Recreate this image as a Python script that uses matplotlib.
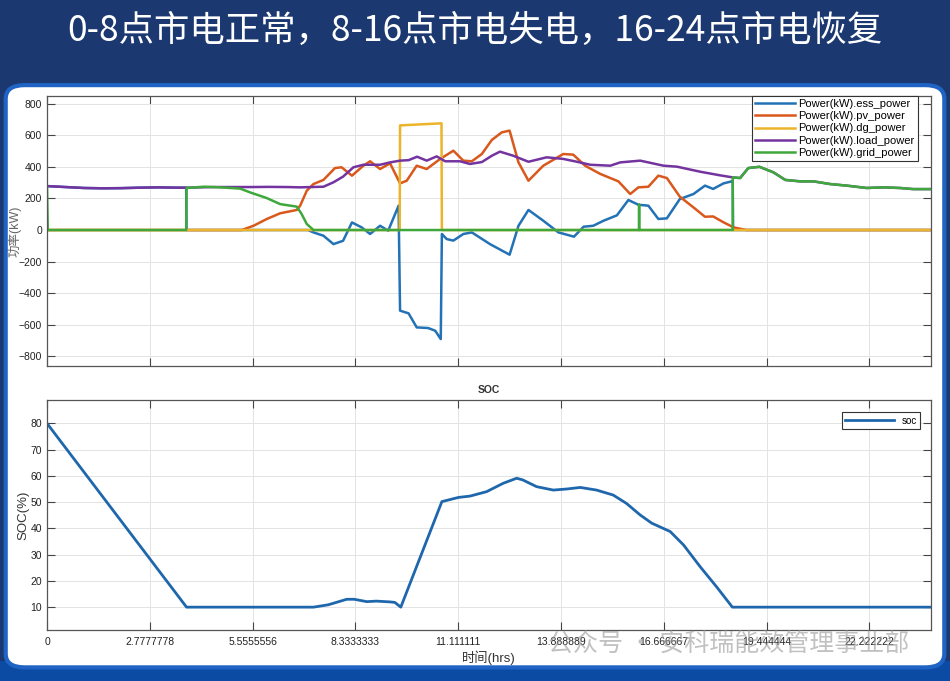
import matplotlib
matplotlib.use('Agg')
import matplotlib.pyplot as plt
from matplotlib.patches import FancyBboxPatch, Rectangle

plt.rcParams['font.family'] = ['Liberation Sans', 'Noto Sans CJK SC', 'DejaVu Sans']

# time in hours, values in kW
load_t = [0, 0.5, 1, 1.5, 2, 2.5, 3, 3.5, 3.76, 4.5, 5.0, 5.5, 6.0, 6.5, 6.84, 7.47, 7.74,
          8.0, 8.28, 8.55, 9.0, 9.27, 9.54, 9.77, 10.0, 10.26, 10.53, 10.76, 11.16, 11.43,
          11.75, 12.02, 12.24, 12.6, 13.01, 13.5, 13.95, 14.32, 14.68, 15.22, 15.49, 16.03,
          16.66, 17.02, 17.65, 18.19, 18.53]
load_v = [278, 272, 266, 264, 265, 268, 270, 268, 268, 272, 272, 272, 273, 272, 270, 274, 302,
          338, 397, 413, 413, 428, 439, 442, 464, 439, 466, 435, 435, 418,
          430, 470, 496, 470, 432, 460, 450, 432, 413, 407, 428, 439,
          407, 401, 369, 346, 333]

grid_t = [0, 0.02, 3.76, 3.77, 4.23, 4.7, 5.22, 5.49, 5.94, 6.3, 6.75, 6.88, 7.02, 7.2,
          16.0, 16.0, 16.0, 18.53, 18.53]
grid_v = [270, 0, 0, 266, 274, 270, 262, 238, 202, 164, 148, 101, 38, 0,
          0, 160, 0, 0, 333]
# after 18.5 h the grid carries the whole load
tail_t = [18.73, 18.95, 19.25, 19.63, 19.95, 20.35, 20.71, 21.16, 21.61, 22.15, 22.6, 23.05, 23.41, 23.85]
tail_v = [329, 392, 400, 365, 317, 308, 308, 291, 281, 266, 270, 266, 259, 259]

ess_t = [3.77, 7.05, 7.2, 7.47, 7.74, 8.0, 8.24, 8.5, 8.73, 9.0, 9.22, 9.5, 9.54, 9.77, 9.99,
         10.3, 10.49, 10.64, 10.67, 10.8, 10.98, 11.25, 11.48, 11.97, 12.5, 12.74, 13.01, 13.41,
         13.82, 14.24, 14.5, 14.76, 15.04, 15.4, 15.71, 15.98, 16.25, 16.52, 16.75, 17.1, 17.47,
         17.78, 18.0, 18.28, 18.5, 18.53, 18.54, 23.85]
ess_v = [0, 0, -15, -36, -89, -68, 48, 17, -25, 27, -4, 154, -510, -527, -616,
         -620, -637, -690, -25, -57, -67, -25, -15, -89, -156, 27, 127, 59,
         -15, -42, 21, 27, 59, 93, 190, 160, 154, 70, 74, 196, 228,
         281, 260, 295, 308, 312, 0, 0]

pv_t = [0, 5.26, 5.58, 5.94, 6.3, 6.75, 6.84, 7.02, 7.2, 7.47, 7.78, 7.96, 8.24, 8.55, 8.73,
        9.0, 9.27, 9.54, 9.72, 9.99, 10.26, 10.62, 10.98, 11.25, 11.48, 11.75, 12.02, 12.29,
        12.5, 12.74, 13.01, 13.41, 13.95, 14.22, 14.54, 14.95, 15.44, 15.76, 15.98, 16.25,
        16.52, 16.75, 17.1, 17.47, 17.78, 18.0, 18.28, 18.55, 18.9, 23.85]
pv_v = [0, 0, 27, 70, 106, 127, 154, 249, 291, 317, 392, 397, 344, 407, 435,
        386, 422, 295, 312, 407, 386, 449, 502, 439, 435, 481, 570, 618,
        629, 428, 312, 407, 481, 477, 407, 355, 308, 228, 270, 274,
        344, 329, 211, 143, 84, 86, 49, 17, 0, 0]

dg_t = [0, 9.53, 9.54, 10.66, 10.67, 23.85]
dg_v = [0, 0, 662, 675, 0, 0]

soc_t = [0, 3.77, 7.2, 7.6, 8.1, 8.3, 8.64, 8.9, 9.27, 9.4, 9.56, 10.67, 11.12, 11.43, 11.88,
         12.33, 12.69, 12.85, 13.23, 13.68, 14.04, 14.41, 14.85, 15.3, 15.66, 16.03, 16.34,
         16.84, 17.2, 17.65, 18.09, 18.52, 23.85]
soc_v = [80, 10, 10, 10.9, 13.0, 13.0, 12.1, 12.3, 12.0, 11.8, 10.0, 50.2, 51.8, 52.3, 54.0,
         57.2, 59.1, 58.5, 55.9, 54.6, 55.0, 55.6, 54.6, 52.7, 49.5, 45.1, 42.0,
         38.8, 33.7, 25.4, 17.8, 10, 10]

xticks = [i * 10000 / 3600 for i in range(9)]
xlabels = ['0', '2.7777778', '5.5555556', '8.3333333', '11.111111', '13.888889',
           '16.666667', '19.444444', '22.222222']

fig = plt.figure(figsize=(9.5, 6.81), dpi=100)
fig.patch.set_facecolor('#1b3870')
fig.patches.append(Rectangle((0, 0), 1, 0.03, transform=fig.transFigure,
                             facecolor='#0c4ba3', edgecolor='none', zorder=-2))
fig.patches.append(FancyBboxPatch((0.006, 0.02), 0.988, 0.855, transform=fig.transFigure,
                                  boxstyle='round,pad=0,rounding_size=0.02',
                                  facecolor='white', edgecolor='#1f63c4', lw=3, zorder=-1))

fig.text(0.5, 0.955, '0-8点市电正常，8-16点市电失电，16-24点市电恢复', color='white',
         fontsize=25.5, ha='center', va='center', family=['Noto Sans CJK SC', 'DejaVu Sans'])

c_ess, c_pv, c_dg, c_load, c_grid = '#2272b5', '#d9581c', '#ebb42a', '#7434a0', '#3ea83c'


def style(ax):
    ax.set_xlim(0, 23.88)
    ax.set_xticks(xticks)
    ax.grid(True, color='#e3e3e3', lw=0.7)
    ax.set_axisbelow(True)
    ax.tick_params(direction='in', length=6, width=0.8, colors='#444444', labelsize=7.5,
                   top=True, right=True, labelcolor='#222222')
    for s in ax.spines.values():
        s.set_color('#555555')
        s.set_linewidth(0.9)


ax1 = fig.add_axes([0.0495, 0.4626, 0.9302, 0.3969])
ax1.plot(load_t[:9] + ess_t, load_v[:9] + ess_v, color=c_ess, lw=1.8, label='Power(kW).ess_power')
ax1.plot(pv_t, pv_v, color=c_pv, lw=1.8, label='Power(kW).pv_power')
ax1.plot(dg_t, dg_v, color=c_dg, lw=1.8, label='Power(kW).dg_power')
ax1.plot(load_t + tail_t, load_v + tail_v, color=c_load, lw=1.8, label='Power(kW).load_power')
ax1.plot(grid_t + tail_t, grid_v + tail_v, color=c_grid, lw=1.8, label='Power(kW).grid_power')
style(ax1)
ax1.set_ylim(-860, 850)
ax1.set_yticks(range(-800, 801, 200))
ax1.set_xticklabels([])
ax1.set_ylabel('功率(kW)', fontsize=9, color='#666666')
ax1.yaxis.set_label_coords(-0.029, 0.5)
leg = ax1.legend(loc='upper right', bbox_to_anchor=(0.9856, 1.0), borderaxespad=0,
                 fontsize=8, fancybox=False, framealpha=1, edgecolor='#333333',
                 labelspacing=0.2, handlelength=3.6, handletextpad=0.3, borderpad=0.3)
leg.get_frame().set_linewidth(0.8)

ax2 = fig.add_axes([0.0495, 0.0749, 0.9302, 0.3377])
ax2.plot(soc_t, soc_v, color='#1f67ad', lw=2, label='soc')
style(ax2)
ax2.set_ylim(1.3, 88.9)
ax2.set_yticks(range(10, 81, 10))
ax2.set_xticklabels(xlabels)
ax2.tick_params(axis='x', pad=5)
ax2.set_title('SOC', fontsize=7.5, fontweight='bold', color='#333333', pad=5)
ax2.set_ylabel('SOC(%)', fontsize=9.5, color='#333333')
ax2.yaxis.set_label_coords(-0.020, 0.5)
ax2.set_xlabel('时间(hrs)', fontsize=9.5, color='#333333')
ax2.xaxis.set_label_coords(0.5, -0.088)
leg2 = ax2.legend(loc='upper right', bbox_to_anchor=(0.988, 0.9465), borderaxespad=0,
                  fontsize=7, fancybox=False, framealpha=1, edgecolor='#333333',
                  handlelength=5, handletextpad=0.8, borderpad=0.35)
leg2.get_frame().set_linewidth(0.8)

# watermark
fig.text(0.577, 0.055, '公众号 · 安科瑞能效管理事业部', color='#999999', alpha=0.6,
         fontsize=18, ha='left', va='center', family=['Noto Sans CJK SC', 'DejaVu Sans'])

fig.savefig('out.png', dpi=100, facecolor=fig.get_facecolor())
